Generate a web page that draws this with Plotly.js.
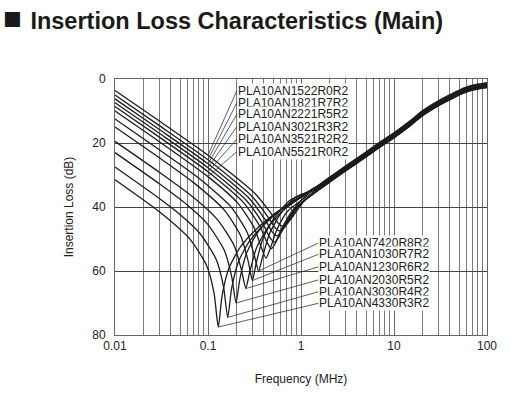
<!DOCTYPE html>
<html>
<head>
<meta charset="utf-8">
<script src="https://cdn.plot.ly/plotly-3.0.1.min.js"></script>
<style>html,body{margin:0;padding:0;background:#fff;}#chart{width:511px;height:396px;}</style>
</head>
<body>
<div id="chart"></div>
<script>
// ---- Data ----
const xTickVals = [0.01, 0.1, 1, 10, 100];
const yTickVals = [0, 20, 40, 60, 80];

const upperNames = ['PLA10AN1522R0R2','PLA10AN1821R7R2','PLA10AN2221R5R2','PLA10AN3021R3R2','PLA10AN3521R2R2','PLA10AN5521R0R2'];
const lowerNames = ['PLA10AN7420R8R2','PLA10AN1030R7R2','PLA10AN1230R6R2','PLA10AN2030R5R2','PLA10AN3030R4R2','PLA10AN4330R3R2'];

const f_1522 = [0.01,0.03,0.1,0.32,0.48,0.576,0.64,0.704,0.832,1.088,2,3,5,7,10,15,20,30,40,55,70,100];
const il_1522 = [3.6,13.14,23.81,35.77,42.12,45.25,46,45.38,42.58,38.04,32.4,28.8,24.4,21.4,18.4,14.6,11.6,8.4,6.5,4.5,3.5,2.7];

const f_1821 = [0.01,0.03,0.1,0.295,0.4425,0.531,0.59,0.649,0.767,1.003,2,3,5,7,10,15,20,30,40,55,70,100];
const il_1821 = [5.0,14.57,25.25,36.54,43.13,46.61,47.5,46.76,43.63,38.86,32.3,28.7,24.3,21.3,18.3,14.5,11.5,8.3,6.4,4.4,3.4,2.6];

const f_2221 = [0.01,0.03,0.1,0.275,0.4125,0.495,0.55,0.605,0.715,0.935,2,3,5,7,10,15,20,30,40,55,70,100];
const il_2221 = [6.2,15.77,26.49,37.19,44.03,47.93,49,48.10,44.57,39.57,32.2,28.6,24.2,21.2,18.2,14.4,11.4,8.2,6.3,4.3,3.3,2.5];

const f_3021 = [0.01,0.03,0.1,0.2575,0.386,0.4635,0.515,0.5665,0.6695,0.8755,2,3,5,7,10,15,20,30,40,55,70,100];
const il_3021 = [7.4,16.97,27.73,37.90,45.05,49.59,51,49.81,45.65,40.33,32.1,28.5,24.1,21.1,18.1,14.3,11.3,8.1,6.2,4.2,3.2,2.4];

const f_3521 = [0.01,0.03,0.1,0.24,0.36,0.432,0.48,0.528,0.624,0.816,1.2,2,3,5,7,10,15,20,30,40,55,70,100];
const il_3521 = [8.6,18.17,28.99,38.54,45.95,51.15,53,51.43,46.60,41.02,35.70,31.95,28.35,23.95,20.95,17.95,14.15,11.15,7.95,6.05,4.05,3.05,2.25];

const f_5521 = [0.01,0.03,0.1,0.21,0.315,0.378,0.42,0.462,0.546,0.714,1.5,2,3,5,7,10,15,20,30,40,55,70,100];
const il_5521 = [10,19.58,30.51,38.85,46.61,52.98,56,53.39,47.33,41.39,34.4,31.8,28.2,23.8,20.8,17.8,14.0,11.0,7.8,5.9,3.9,2.9,2.1];

const f_7420 = [0.01,0.03,0.08,0.175,0.2625,0.315,0.35,0.385,0.455,0.595,0.875,1.5,2,3,5,7,10,15,20,30,40,55,70,100];
const il_7420 = [12.5,22.11,31.02,39.82,47.79,55.17,60,55.73,48.56,42.38,36.92,34.25,31.65,28.05,23.65,20.65,17.65,13.85,10.85,7.65,5.75,3.75,2.75,1.95];

const f_1030 = [0.01,0.03,0.07,0.15,0.225,0.27,0.3,0.33,0.39,0.51,0.75,1.0,1.5,2,3,5,7,10,15,20,30,40,55,70,100];
const il_1030 = [15,24.63,32.38,40.99,49.04,56.85,63,57.49,49.83,43.57,38.08,36.2,34.1,31.5,27.9,23.5,20.5,17.5,13.7,10.7,7.5,5.6,3.6,2.6,1.8];

const f_1230 = [0.01,0.03,0.07,0.1275,0.1913,0.2295,0.255,0.2805,0.3315,0.4335,0.6375,1.0,1.5,2,3,5,7,10,15,20,30,40,55,70,100];
const il_1230 = [19.5,29.16,37.07,44.08,52.11,59.79,65.5,60.41,52.89,46.65,41.17,37.0,33.95,31.35,27.75,23.35,20.35,17.35,13.55,10.55,7.35,5.45,3.45,2.45,1.65];

const f_2030 = [0.01,0.03,0.06,0.1,0.15,0.18,0.2,0.22,0.26,0.34,0.5,1.0,1.5,2,3,5,7,10,15,20,30,40,55,70,100];
const il_2030 = [23,32.74,39.38,45.48,53.60,61.82,70,62.55,54.40,48.07,42.57,36.9,33.8,31.2,27.6,23.2,20.2,17.2,13.4,10.4,7.2,5.3,3.3,2.3,1.5];

const f_3030 = [0.01,0.03,0.05,0.0815,0.1223,0.1467,0.163,0.1793,0.2119,0.2771,0.4075,0.652,1.0,1.5,2,3,5,7,10,15,20,30,40,55,70,100];
const il_3030 = [27.5,37.34,42.34,48.21,56.35,64.77,74.5,65.54,57.16,50.81,45.29,40.26,36.7,33.6,31.0,27.4,23.0,20.0,17.0,13.2,10.2,7.0,5.1,3.1,2.1,1.3];

const f_4330 = [0.01,0.03,0.0645,0.0968,0.1161,0.129,0.1419,0.1677,0.2193,0.3225,0.516,1.0,1.5,2,3,5,7,10,15,20,30,40,55,70,100];
const il_4330 = [31.5,41.52,50.18,58.34,66.84,77.5,67.62,59.15,52.78,47.26,42.23,36.5,33.4,30.8,27.2,22.8,19.8,16.8,13.0,10.0,6.8,4.9,2.9,1.9,1.1];

const upperSeries = [[f_1522,il_1522],[f_1821,il_1821],[f_2221,il_2221],[f_3021,il_3021],[f_3521,il_3521],[f_5521,il_5521]];
const lowerSeries = [[f_7420,il_7420],[f_1030,il_1030],[f_1230,il_1230],[f_2030,il_2030],[f_3030,il_3030],[f_4330,il_4330]];

// ---- Build ----
const lineStyle = {color:'#1c1c1c', width:1.3, shape:'spline', smoothing:0.6};
const traces = [];
upperSeries.concat(lowerSeries).forEach((s,i)=>{
  traces.push({x:s[0], y:s[1], type:'scatter', mode:'lines', line:lineStyle, hoverinfo:'skip',
    name: (upperNames.concat(lowerNames))[i], showlegend:false});
});

const labelFont = {family:'Liberation Sans, Arial, sans-serif', size:12, color:'#222'};
const annotations = [];
// upper labels: leader to left arm at 0.1 MHz
const upperRows = [3.66, 7.4, 11.0, 14.9, 18.8, 22.7];
upperSeries.forEach((s,i)=>{
  const k = s[0].indexOf(0.1);
  annotations.push({x:Math.log10(s[0][k]), y:s[1][k], xref:'x', yref:'y',
    ax:-0.69, ay:upperRows[i], axref:'x', ayref:'y',
    text:upperNames[i], showarrow:true, arrowhead:0, arrowwidth:0.8, arrowcolor:'#333',
    standoff:0, startstandoff:0, xanchor:'left', yanchor:'middle',
    bgcolor:'#fff', borderpad:0, font:labelFont});
});
// lower labels: leader to the resonance dip
const lowerRows = [51.3, 54.8, 58.7, 62.8, 66.5, 70.1];
lowerSeries.forEach((s,i)=>{
  let k = 0; s[1].forEach((v,j)=>{ if (v > s[1][k]) k = j; });
  annotations.push({x:Math.log10(s[0][k]), y:s[1][k], xref:'x', yref:'y',
    ax:0.185, ay:lowerRows[i], axref:'x', ayref:'y',
    text:lowerNames[i], showarrow:true, arrowhead:0, arrowwidth:0.8, arrowcolor:'#333',
    standoff:0, startstandoff:0, xanchor:'left', yanchor:'middle',
    bgcolor:'#fff', borderpad:0, font:labelFont});
});

const axisFont = {family:'Liberation Sans, Arial, sans-serif', size:12, color:'#222'};
const layout = {
  width:511, height:396,
  margin:{l:115, r:24, t:79, b:61},
  paper_bgcolor:'#fff', plot_bgcolor:'#fff',
  title:{text:'<span style="font-size:31px">■ </span>Insertion Loss Characteristics (Main)',
    x:0.006, xanchor:'left', xref:'container', y:0.968, yanchor:'top', yref:'container',
    font:{family:'Liberation Sans, Arial, sans-serif', size:23.5, color:'#1a1a1a', weight:700}},
  xaxis:{type:'log', range:[-2,2], tickvals:xTickVals, ticktext:['0.01','0.1','1','10','100'],
    showgrid:true, gridcolor:'#6a6a6a', gridwidth:1,
    minor:{dtick:'D1', showgrid:true, gridcolor:'#7a7a7a', gridwidth:1, ticks:''},
    showline:true, mirror:true, linecolor:'#666', linewidth:1,
    ticks:'', tickfont:axisFont, zeroline:false,
    title:{text:'Frequency (MHz)', font:axisFont, standoff:22}},
  yaxis:{range:[80,0], tickvals:yTickVals, showgrid:true, gridcolor:'#444', gridwidth:1,
    showline:true, mirror:true, linecolor:'#666', linewidth:1,
    ticks:'outside', ticklen:6, tickcolor:'rgba(0,0,0,0)',
    tickfont:axisFont, zeroline:false,
    title:{text:'Insertion Loss (dB)', font:axisFont, standoff:16}},
  annotations:annotations,
  showlegend:false
};
Plotly.newPlot('chart', traces, layout, {staticPlot:true, displayModeBar:false});
</script>
</body>
</html>
